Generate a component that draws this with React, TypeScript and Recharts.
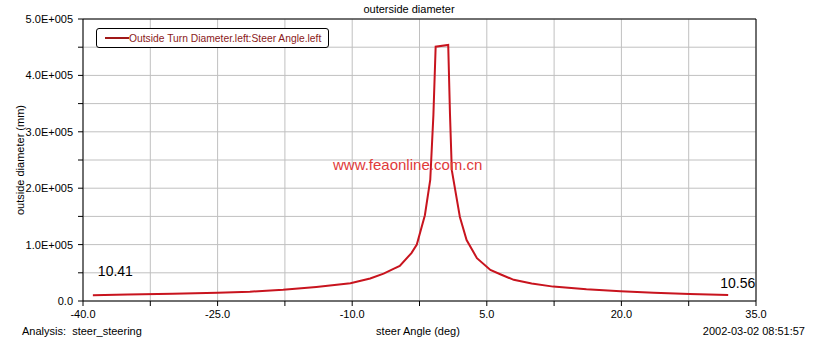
import React from 'react';
import { LineChart, Line, XAxis, YAxis, CartesianGrid, Legend, ReferenceLine, ReferenceDot } from 'recharts';

const steerAngle = [
    -38.9, -35, -30, -25, -21.4, -17.7, -14, -10.2, -8, -6.5, -5.4, -4.7, -3.4, -2.8, -1.9, -1.3, -0.95, -0.7,
    0.7, 0.9, 1.1, 2.0, 2.75, 3.9, 5.4, 6.5, 8.0, 10, 12.4, 16.1, 19.9, 23.6, 27.6, 31.9,
];
const outsideDiameter = [
    10410, 11500, 13000, 14800, 16500, 19800, 25000, 31500, 40000, 48500, 57000, 62000, 85000, 100000, 152000, 215000, 330000, 451000,
    454000, 330000, 232000, 149000, 108000, 76000, 55000, 47500, 37500, 31000, 25500, 20700, 17500, 14700, 12400, 10560,
];
const xTicks = [-40, -32.5, -25, -17.5, -10, -2.5, 5, 12.5, 20, 27.5, 35];
const yTicks = [0, 50000, 100000, 150000, 200000, 250000, 300000, 350000, 400000, 450000, 500000];
const endLabels = ['10.41', '10.56'];

const seriesName = 'Outside Turn Diameter.left:Steer Angle.left';
const lineColor = '#c8141e';
const font = '"Liberation Sans", Arial, sans-serif';

const data = steerAngle.map((a, i) => ({ angle: a, diameter: outsideDiameter[i] }));

const fmtY = (v: number) => {
    if (v === 0) return '0.0';
    if (v % 100000 !== 0) return '';
    return `${(v / 100000).toFixed(1)}E+005`;
};
const fmtX = (v: number) => ((v + 40) % 15 === 0 ? v.toFixed(1) : '');

const LegendBox = () => (
    <div
        style={{
            border: '1px solid #000',
            borderRadius: 3,
            height: 20,
            boxSizing: 'border-box',
            display: 'flex',
            alignItems: 'center',
            padding: '0 7px 0 8px',
            background: '#fff',
            fontFamily: font,
        }}
    >
        <span style={{ display: 'inline-block', width: 24, height: 2, background: '#a01818' }} />
        <span style={{ color: '#8b1a1a', fontSize: 10.3, whiteSpace: 'nowrap' }}>{seriesName}</span>
    </div>
);

const App: React.FC = () => {
    const txt: React.CSSProperties = { position: 'absolute', fontSize: 11, color: '#000', whiteSpace: 'nowrap' };
    return (
        <div style={{ position: 'absolute', left: 0, top: 0, width: 818, height: 340, background: '#fff', fontFamily: font }}>
            <LineChart width={818} height={340} data={data} margin={{ top: 19, right: 62, bottom: 0, left: 0 }}>
                <CartesianGrid stroke="#c0c0c0" horizontalValues={yTicks} verticalValues={xTicks} />
                <XAxis
                    dataKey="angle"
                    type="number"
                    domain={[-40, 35]}
                    ticks={xTicks}
                    interval={0}
                    tickFormatter={fmtX}
                    height={39}
                    tickSize={5}
                    tickMargin={4}
                    stroke="#000"
                    tick={{ fontSize: 11, fill: '#000', fontFamily: font }}
                />
                <YAxis
                    type="number"
                    domain={[0, 500000]}
                    ticks={yTicks}
                    interval={0}
                    tickFormatter={fmtY}
                    width={83}
                    tickSize={5}
                    tickMargin={5}
                    stroke="#000"
                    tick={{ fontSize: 11, fill: '#000', fontFamily: font }}
                />
                <ReferenceLine y={500000} stroke="#000" />
                <ReferenceLine x={35} stroke="#000" />
                <Legend
                    layout="horizontal"
                    verticalAlign="middle"
                    align="center"
                    content={() => <LegendBox />}
                    wrapperStyle={{ left: 96, top: 28, width: 'auto' }}
                />
                <Line
                    type="linear"
                    dataKey="diameter"
                    stroke={lineColor}
                    strokeWidth={2}
                    dot={false}
                    isAnimationActive={false}
                />
                <ReferenceDot
                    x={steerAngle[0]}
                    y={outsideDiameter[0]}
                    r={1}
                    fill="none"
                    stroke="none"
                    label={(p: any) => (
                        <text x={p.viewBox.x + 6} y={p.viewBox.y - 18} fontSize={14} fontFamily={font} fill="#000">
                            {endLabels[0]}
                        </text>
                    )}
                />
                <ReferenceDot
                    x={steerAngle[steerAngle.length - 1]}
                    y={outsideDiameter[outsideDiameter.length - 1]}
                    r={1}
                    fill="none"
                    stroke="none"
                    label={(p: any) => (
                        <text x={p.viewBox.x - 7} y={p.viewBox.y - 6} fontSize={14} fontFamily={font} fill="#000">
                            {endLabels[1]}
                        </text>
                    )}
                />
            </LineChart>
            <div style={{ ...txt, left: 0, width: 818, top: 3, textAlign: 'center', lineHeight: '13px' }}>outerside diameter</div>
            <div
                style={{
                    ...txt,
                    left: 20,
                    top: 160,
                    transform: 'translate(-50%, -50%) rotate(-90deg)',
                }}
            >
                outside diameter (mm)
            </div>
            <div style={{ ...txt, left: 333, top: 156, fontSize: 15, color: '#e03a3a' }}>www.feaonline.com.cn</div>
            <div style={{ ...txt, left: 22, top: 325 }}>Analysis:&nbsp; steer_steering</div>
            <div style={{ ...txt, left: 0, width: 836, top: 325, textAlign: 'center' }}>steer Angle (deg)</div>
            <div style={{ ...txt, right: 13, top: 325 }}>2002-03-02 08:51:57</div>
        </div>
    );
};

export default App;
